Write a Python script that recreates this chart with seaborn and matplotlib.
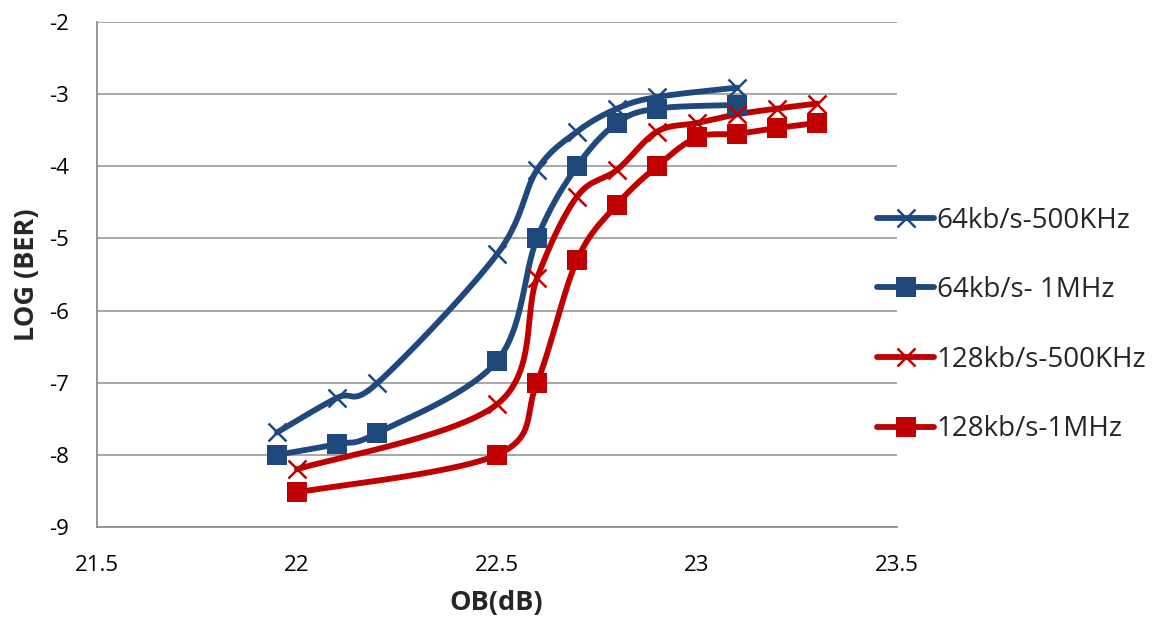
import numpy as np
import pandas as pd
import matplotlib
matplotlib.use("Agg")
import matplotlib.pyplot as plt
from matplotlib.lines import Line2D
import seaborn as sns

# ---- data ----
x_64_500k = [21.95, 22.1, 22.2, 22.5, 22.6, 22.7, 22.8, 22.9, 23.1]
y_64_500k = [-7.69, -7.21, -7.01, -5.22, -4.05, -3.52, -3.2, -3.04, -2.91]

x_64_1m = [21.95, 22.1, 22.2, 22.5, 22.6, 22.7, 22.8, 22.9, 23.1]
y_64_1m = [-8.0, -7.85, -7.7, -6.7, -5.0, -4.0, -3.4, -3.2, -3.15]

x_128_500k = [22.0, 22.5, 22.6, 22.7, 22.8, 22.9, 23.0, 23.1, 23.2, 23.3]
y_128_500k = [-8.2, -7.3, -5.55, -4.42, -4.05, -3.52, -3.4, -3.28, -3.2, -3.13]

x_128_1m = [22.0, 22.5, 22.6, 22.7, 22.8, 22.9, 23.0, 23.1, 23.2, 23.3]
y_128_1m = [-8.52, -8.0, -7.0, -5.3, -4.53, -4.0, -3.6, -3.55, -3.47, -3.4]

labels = ["64kb/s-500KHz", "64kb/s- 1MHz", "128kb/s-500KHz", "128kb/s-1MHz"]

x_ticks = [21.5, 22, 22.5, 23, 23.5]
x_ticklabels = ["21.5", "22", "22.5", "23", "23.5"]
y_ticks = [-9, -8, -7, -6, -5, -4, -3, -2]

series = [
    (labels[0], x_64_500k, y_64_500k),
    (labels[1], x_64_1m, y_64_1m),
    (labels[2], x_128_500k, y_128_500k),
    (labels[3], x_128_1m, y_128_1m),
]

BLUE = "#1F497D"
RED = "#C00000"
styles = {
    labels[0]: dict(color=BLUE, marker="x", ms=13, mew=1.8),
    labels[1]: dict(color=BLUE, marker="s", ms=14, mew=0),
    labels[2]: dict(color=RED, marker="x", ms=13, mew=1.8),
    labels[3]: dict(color=RED, marker="s", ms=14, mew=0),
}
LW = 4.2


def smooth(xs, ys, n=30):
    """Excel-like smoothed line (cubic Bezier through the points)."""
    p = np.column_stack([xs, ys]).astype(float)
    scale = np.array([400.0, 72.1])
    q = p * scale
    ext = np.vstack([q[0], q, q[-1]])
    out = []
    for i in range(len(q) - 1):
        p0, p1, p2, p3 = ext[i], ext[i + 1], ext[i + 2], ext[i + 3]
        c1 = p1 + (p2 - p0) / 6.0
        c2 = p2 - (p3 - p1) / 6.0
        t = np.linspace(0, 1, n, endpoint=(i == len(q) - 2))[:, None]
        seg = ((1 - t) ** 3) * p1 + 3 * ((1 - t) ** 2) * t * c1 + 3 * (1 - t) * t ** 2 * c2 + t ** 3 * p2
        out.append(seg)
    out = np.vstack(out) / scale
    return out[:, 0], out[:, 1]


sns.set_theme(style="white")
plt.rcParams["font.family"] = ["Open Sans", "DejaVu Sans"]

fig = plt.figure(figsize=(11.52, 6.17), dpi=100)
ax = fig.add_axes([97 / 1152, 1 - 527 / 617, 800 / 1152, 505 / 617])

handles = []
for name, xs, ys in series:
    st = styles[name]
    sx, sy = smooth(xs, ys)
    df_line = pd.DataFrame({"x": sx, "y": sy})
    sns.lineplot(data=df_line, x="x", y="y", sort=False, estimator=None,
                 color=st["color"], lw=LW, ax=ax, zorder=3)
    df_pts = pd.DataFrame({"x": xs, "y": ys})
    ax.plot(df_pts["x"], df_pts["y"], ls="none", marker=st["marker"], ms=st["ms"],
            mew=st["mew"], color=st["color"], zorder=4)
    handles.append(Line2D([0], [0], color=st["color"], lw=LW, marker=st["marker"],
                          ms=st["ms"], mew=st["mew"], label=name))

ax.set_xlim(21.5, 23.5)
ax.set_ylim(-9, -2)
ax.set_xticks(x_ticks)
ax.set_xticklabels(x_ticklabels)
ax.set_yticks(y_ticks)
ax.set_yticklabels([str(v) for v in y_ticks])
ax.tick_params(axis="both", labelsize=16, colors="black", length=0)
ax.tick_params(axis="x", pad=20)
ax.tick_params(axis="y", pad=20)
ax.yaxis.grid(True, color="#A0A0A0", lw=1.3)
ax.xaxis.grid(False)
for s in ["top", "right"]:
    ax.spines[s].set_visible(False)
for s in ["left", "bottom"]:
    ax.spines[s].set_color("#8C8C8C")
    ax.spines[s].set_linewidth(1.3)

ax.set_xlabel("OB(dB)", fontsize=19.5, fontweight="bold")
ax.set_ylabel("LOG (BER)", fontsize=19.5, fontweight="bold")
ax.xaxis.set_label_coords((496 - 97) / 800, (527 - 590) / 505)
ax.yaxis.set_label_coords((40 - 97) / 800, 0.5)

leg = fig.legend(handles=handles, loc="center left", bbox_to_anchor=(866 / 1152, 1 - 325 / 617),
                 frameon=False, fontsize=20, handlelength=2.05, handletextpad=0.1,
                 labelspacing=1.5, borderaxespad=0)

fig.savefig("out.png", dpi=100)
